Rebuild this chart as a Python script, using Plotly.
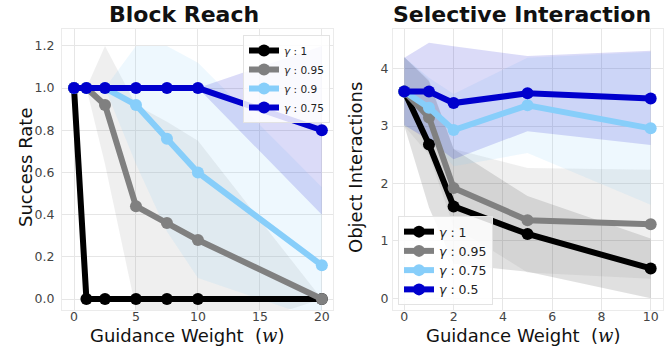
import plotly.graph_objects as go

# ---------------- data: Block Reach ----------------
w_block = [0, 1, 2.5, 5, 7.5, 10, 20]
block_g1 = [1.0, 0.0, 0.0, 0.0, 0.0, 0.0, 0.0]
block_g095 = [1.0, 1.0, 0.92, 0.44, 0.36, 0.28, 0.0]
block_g09 = [1.0, 1.0, 1.0, 0.92, 0.76, 0.60, 0.16]
block_g075 = [1.0, 1.0, 1.0, 1.0, 1.0, 1.0, 0.80]

block_g1_lo = [1.0, 0.0, 0.0, 0.0, 0.0, 0.0, 0.0]
block_g1_hi = [1.0, 0.0, 0.0, 0.0, 0.0, 0.0, 0.0]
block_g095_lo = [1.0, 1.0, 0.64, -0.05, -0.12, -0.19, 0.0]
block_g095_hi = [1.0, 1.0, 1.20, 0.92, 0.84, 0.75, 0.0]
block_g09_lo = [1.0, 1.0, 1.0, 0.64, 0.32, 0.10, -0.10]
block_g09_hi = [1.0, 1.0, 1.0, 1.20, 1.20, 1.12, 0.53]
block_g075_lo = [1.0, 1.0, 1.0, 1.0, 1.0, 1.0, 0.40]
block_g075_hi = [1.0, 1.0, 1.0, 1.0, 1.0, 1.0, 1.20]

block_labels = ["1", "0.95", "0.9", "0.75"]

# ---------------- data: Selective Interaction ----------------
w_sel = [0, 1, 2, 5, 10]
sel_g1 = [3.6, 2.68, 1.60, 1.12, 0.52]
sel_g095 = [3.6, 3.15, 1.92, 1.36, 1.29]
sel_g075 = [3.6, 3.32, 2.93, 3.36, 2.96]
sel_g05 = [3.6, 3.60, 3.40, 3.57, 3.48]

sel_g1_lo = [3.0, 1.58, 0.60, 0.46, 0.00]
sel_g1_hi = [4.2, 3.78, 2.60, 1.78, 1.04]
sel_g095_lo = [3.0, 2.50, 1.25, 0.45, 0.34]
sel_g095_hi = [4.2, 3.80, 2.60, 2.27, 2.24]
sel_g075_lo = [3.0, 2.80, 2.30, 2.53, 1.63]
sel_g075_hi = [4.2, 3.84, 3.56, 4.19, 4.29]
sel_g05_lo = [3.02, 2.75, 2.42, 2.91, 2.67]
sel_g05_hi = [4.19, 4.45, 4.39, 4.22, 4.31]

sel_labels = ["1", "0.95", "0.75", "0.5"]

# ---------------- styling ----------------
colors = ["#000000", "#808080", "#87CEFA", "#0000CD"]
band_colors = ["rgba(0,0,0,0.12)", "rgba(128,128,128,0.13)",
               "rgba(135,206,250,0.14)", "rgba(0,0,205,0.14)"]
FONT = "DejaVu Sans"
W, H = 670, 347

fig = go.Figure()


def add_panel(x, means, los, his, labels, xa, ya, legend):
    for lo, hi, bc in zip(los, his, band_colors):
        fig.add_trace(go.Scatter(
            x=list(x) + list(x)[::-1], y=list(hi) + list(lo)[::-1],
            fill="toself", fillcolor=bc, line=dict(width=0),
            mode="lines", showlegend=False, hoverinfo="skip",
            xaxis=xa, yaxis=ya))
    for m, c, lab in zip(means, colors, labels):
        fig.add_trace(go.Scatter(
            x=x, y=m, mode="lines+markers",
            line=dict(color=c, width=6),
            marker=dict(color=c, size=12),
            name="<i>γ</i> : " + lab,
            xaxis=xa, yaxis=ya, legend=legend))


add_panel(w_block,
          [block_g1, block_g095, block_g09, block_g075],
          [block_g1_lo, block_g095_lo, block_g09_lo, block_g075_lo],
          [block_g1_hi, block_g095_hi, block_g09_hi, block_g075_hi],
          block_labels, "x", "y", "legend")
add_panel(w_sel,
          [sel_g1, sel_g095, sel_g075, sel_g05],
          [sel_g1_lo, sel_g095_lo, sel_g075_lo, sel_g05_lo],
          [sel_g1_hi, sel_g095_hi, sel_g075_hi, sel_g05_hi],
          sel_labels, "x2", "y2", "legend2")

ax_common = dict(
    showgrid=True, gridcolor="#e6e6e6", gridwidth=1,
    zeroline=False, showline=True, linecolor="#ebebeb", linewidth=1,
    mirror=True, ticks="", tickfont=dict(family=FONT, size=12.5, color="#444"),
)

ydom = [1 - 310 / H, 1 - 29 / H]

fig.update_layout(
    width=W, height=H,
    margin=dict(l=0, r=0, t=0, b=0),
    paper_bgcolor="white", plot_bgcolor="white",
    font=dict(family=FONT, color="#222"),
    xaxis=dict(domain=[62 / W, 333 / W], range=[-0.97, 20.9],
               tickvals=[0, 5, 10, 15, 20], ticklabelstandoff=-5, anchor="y", **ax_common),
    yaxis=dict(domain=ydom, range=[-0.052, 1.28],
               tickvals=[0, 0.2, 0.4, 0.6, 0.8, 1.0, 1.2], tickformat=".1f",
               ticklabelstandoff=4, anchor="x", **ax_common),
    xaxis2=dict(domain=[393 / W, 663 / W], range=[-0.46, 10.5],
                tickvals=[0, 2, 4, 6, 8, 10], ticklabelstandoff=-5, anchor="y2", **ax_common),
    yaxis2=dict(domain=ydom, range=[-0.204, 4.69],
                tickvals=[0, 1, 2, 3, 4], ticklabelstandoff=1, anchor="x2", **ax_common),
    legend=dict(x=330 / W, xanchor="right", y=1 - 35 / H, yanchor="top",
                bgcolor="rgba(255,255,255,0.85)", bordercolor="#e3e3e3", borderwidth=1,
                font=dict(family=FONT, size=10.5, color="#222"),
                itemwidth=30, tracegroupgap=0),
    legend2=dict(x=398 / W, xanchor="left", y=1 - 305 / H, yanchor="bottom",
                 bgcolor="rgba(255,255,255,0.85)", bordercolor="#e3e3e3", borderwidth=1,
                 font=dict(family=FONT, size=12.5, color="#222"),
                 itemwidth=30, tracegroupgap=0),
)

wlabel = 'Guidance Weight  (<span style="font-family:DejaVu Serif"><i>w</i></span>)'
annos = [
    dict(text="<b>Block Reach</b>", x=184 / W, y=1 - 14 / H, size=22),
    dict(text="<b>Selective Interaction</b>", x=522 / W, y=1 - 14 / H, size=22),
    dict(text=wlabel, x=187 / W, y=1 - 335 / H, size=18),
    dict(text=wlabel, x=523 / W, y=1 - 335 / H, size=18),
]
for a in annos:
    fig.add_annotation(text=a["text"], x=a["x"], y=a["y"], xref="paper", yref="paper",
                       xanchor="center", yanchor="middle", showarrow=False,
                       font=dict(family=FONT, size=a["size"], color="#111"))
fig.add_annotation(text="Success Rate", x=25 / W, y=1 - 168 / H, xref="paper", yref="paper",
                   xanchor="center", yanchor="middle", showarrow=False, textangle=-90,
                   font=dict(family=FONT, size=18, color="#111"))
fig.add_annotation(text="Object Interactions", x=355 / W, y=1 - 168 / H, xref="paper", yref="paper",
                   xanchor="center", yanchor="middle", showarrow=False, textangle=-90,
                   font=dict(family=FONT, size=18, color="#111"))

fig.write_html("out.html", config={"displayModeBar": False},
               post_script="document.body.style.margin='0px';document.body.style.padding='0px';")
